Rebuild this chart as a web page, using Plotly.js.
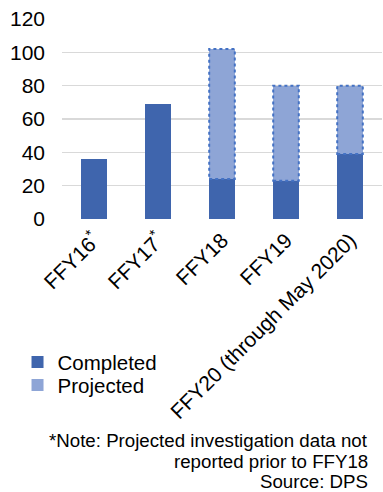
<!DOCTYPE html>
<html>
<head>
<meta charset="utf-8">
<script src="https://cdn.plot.ly/plotly-3.0.1.min.js"></script>
<style>html,body{margin:0;padding:0;background:#fff;}#chart{width:383px;height:492px;}</style>
</head>
<body>
<div id="chart"></div>
<script>
const categories = ["FFY16<sup>*</sup>", "FFY17<sup>*</sup>", "FFY18", "FFY19", "FFY20 (through May 2020)"];
const completed = [36, 69, 24, 23, 39];
const projected = [null, null, 78, 57, 41];
const yTicks = [0, 20, 40, 60, 80, 100, 120];
const noteLines = ["*Note: Projected investigation data not", "reported prior to FFY18", "Source: DPS"];

const barHalf = 0.2;
const shapes = [];
projected.forEach((p, i) => {
  if (p == null) return;
  shapes.push({
    type: 'rect', xref: 'x', yref: 'y',
    x0: i - barHalf, x1: i + barHalf,
    y0: completed[i], y1: completed[i] + p,
    line: {color: '#4472C4', width: 2, dash: 'dot'},
    fillcolor: 'rgba(0,0,0,0)'
  });
});

const data = [
  {type: 'bar', name: 'Completed', x: categories, y: completed,
   marker: {color: '#3F65AD'}, legend: 'legend'},
  {type: 'bar', name: 'Projected', x: categories, y: projected,
   marker: {color: '#8EA5D6'}, legend: 'legend2'}
];

const noteY = [-1.105, -1.21, -1.31];
const annotations = noteLines.map((t, i) => ({
  xref: 'paper', yref: 'paper', x: 0.963, y: noteY[i], xanchor: 'right', yanchor: 'middle',
  align: 'right', showarrow: false, text: t, font: {size: 18.7}
}));

const legendCommon = {xanchor: 'left', yanchor: 'top', font: {size: 20.5},
  bgcolor: 'rgba(0,0,0,0)', itemwidth: 30};

const layout = {
  width: 383, height: 492,
  margin: {l: 62, r: 1, t: 19, b: 273},
  barmode: 'stack', bargap: 0.6,
  font: {family: 'Liberation Sans, Arial, sans-serif', size: 21, color: '#000'},
  plot_bgcolor: '#fff', paper_bgcolor: '#fff',
  xaxis: {tickangle: -45, showgrid: false, showline: false, ticks: '', zeroline: false,
          ticklabelstandoff: 4, tickfont: {size: 21}},
  yaxis: {range: [0, 120], tickvals: yTicks, showgrid: true, gridcolor: '#D9D9D9', gridwidth: 1.5,
          zeroline: false, showline: false, ticks: '', ticklabelstandoff: 16, tickfont: {size: 21}},
  showlegend: true,
  legend: Object.assign({x: -0.139, y: -0.616}, legendCommon),
  legend2: Object.assign({x: -0.139, y: -0.731}, legendCommon),
  shapes: shapes,
  annotations: annotations
};

Plotly.newPlot('chart', data, layout, {displayModeBar: false, staticPlot: true});
</script>
</body>
</html>
